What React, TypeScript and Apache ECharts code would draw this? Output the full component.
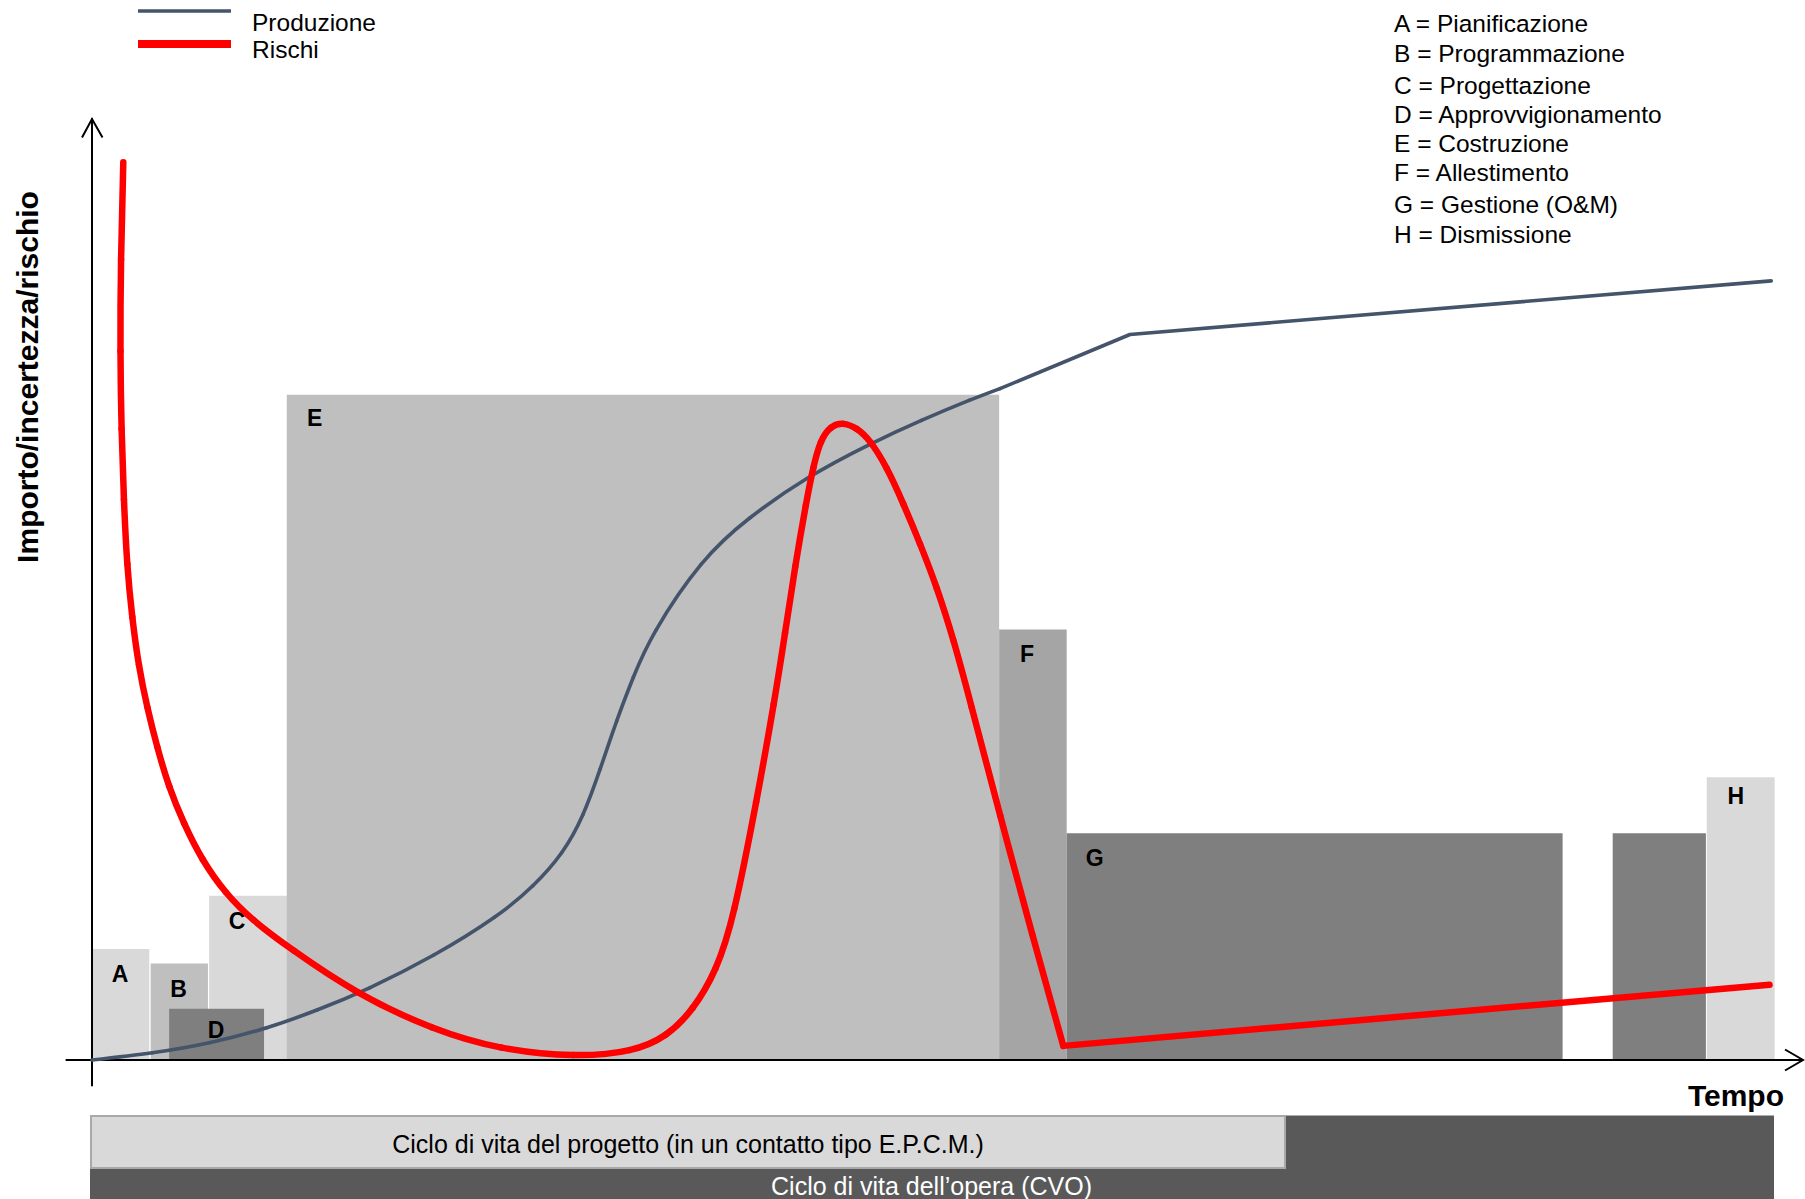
import React, { useEffect, useRef } from "react";
import * as echarts from "echarts";

// ---- data ----
const phaseLabels = ["A", "B", "C", "D", "E", "F", "G", "", "H"];
const phaseStart = [0, 3.43, 6.85, 4.51, 11.39, 53.05, 57.0, 88.93, 94.43];
const phaseEnd = [3.35, 6.78, 11.4, 10.06, 53.05, 57.0, 86.0, 94.38, 98.4];
const phaseHeight = [11.8, 10.25, 17.45, 5.45, 70.7, 45.75, 24.1, 24.1, 30.05];

const productionCurve: [number, number][] = [
  [0, 0], [3.57, 0.71], [6.93, 1.77], [10.29, 3.37], [13.2, 5.3], [16.06, 7.44],
  [19.96, 10.98], [23.86, 15.41], [25.81, 18.42], [27.56, 21.97], [28.73, 25.86], [29.71, 30.82],
  [30.68, 36.13], [31.66, 40.73], [32.63, 44.98], [35.68, 53.34], [38.37, 57.62], [41.74, 61.9],
  [45.5, 65.5], [48.5, 68.0], [51.54, 70.3], [53.1, 71.35],
];
const productionTail: [number, number][] = [[53.1, 71.35], [60.7, 77.1], [98.2, 82.8]];

const riskCurve: [number, number][] = [
  [1.83, 95.4], [1.68, 85], [1.65, 75], [1.72, 67], [1.86, 59.5], [2.05, 52.4],
  [2.34, 47.1], [2.73, 41.8], [3.22, 37.5], [3.8, 33.3], [4.48, 29.04], [5.36, 25.15],
  [6.43, 21.25], [7.8, 17.71], [9.36, 14.88], [11.5, 11.95], [15.48, 7.0], [19.96, 3.2],
  [23.86, 1.1], [28.34, 0.29], [31.66, 0.89], [33.61, 2.48], [35.16, 5.31], [36.53, 9.56],
  [37.5, 14.88], [38.9, 27.8], [39.94, 38.44], [40.53, 45.35], [41.11, 52.43], [41.79, 59.5],
  [42.18, 63.05], [42.6, 65.9], [43.2, 67.4], [43.94, 67.75], [44.7, 67.2], [45.5, 65.89],
  [46.47, 63.05], [47.44, 59.16], [48.42, 54.91], [49.4, 50.3], [50.4, 44.6], [51.3, 38.5],
  [53.1, 26.0], [55.0, 13.2], [56.8, 1.5],
];
const riskTail: [number, number][] = [[56.8, 1.5], [98.1, 8.0]];

const seriesNames = ["Produzione", "Rischi"];
const phaseLegend = [
  "A = Pianificazione",
  "B = Programmazione",
  "C = Progettazione",
  "D = Approvvigionamento",
  "E = Costruzione",
  "F = Allestimento",
  "G = Gestione (O&M)",
  "H = Dismissione",
];
const axisTitleY = "Importo/incertezza/rischio";
const axisTitleX = "Tempo";
const bandProject = "Ciclo di vita del progetto (in un contatto tipo E.P.C.M.)";
const bandWork = "Ciclo di vita dell\u2019opera (CVO)";

// ---- styles ----
const FONT = "'Liberation Sans', Arial, Helvetica, sans-serif";
const phaseColors = ["#d9d9d9", "#bfbfbf", "#d9d9d9", "#7f7f7f", "#bfbfbf", "#a5a5a5", "#7f7f7f", "#7f7f7f", "#d9d9d9"];
const labelOffsets: Record<string, [number, number]> = { D: [47, 21], H: [29, 19], E: [28, 23] };
const legendRowY = [23.7, 53.7, 85.3, 114.7, 143.7, 172, 204.7, 234];
const BLUE = "#44546A";
const RED = "#FF0000";

function txt(text: string, x: number, y: number, size: number, opts: any = {}) {
  return {
    type: "text",
    x,
    y,
    rotation: opts.rotation || 0,
    z: 20,
    silent: true,
    style: {
      text,
      fontSize: size,
      fontFamily: FONT,
      fontWeight: opts.bold ? "bold" : "normal",
      fill: opts.fill || "#000",
      align: opts.align || "left",
      textAlign: opts.align || "left",
      verticalAlign: "middle",
      textVerticalAlign: "middle",
    },
  };
}

// smooth curve: uniform cubic B-spline over the read points (end points reflected so
// the curve starts and ends exactly on the first and last point), one bezier per segment
function curveSeries(name: string, pts: [number, number][], color: string, width: number, z: number) {
  return {
    name,
    type: "custom",
    z,
    silent: true,
    data: pts,
    encode: { x: 0, y: 1 },
    renderItem: (params: any, api: any) => {
      const i = params.dataIndex;
      const n = pts.length;
      if (i >= n - 1) return null;
      const c = (k: number): number[] => {
        if (k < 0) {
          const a = api.coord(pts[0]), b = api.coord(pts[1]);
          return [2 * a[0] - b[0], 2 * a[1] - b[1]];
        }
        if (k > n - 1) {
          const a = api.coord(pts[n - 1]), b = api.coord(pts[n - 2]);
          return [2 * a[0] - b[0], 2 * a[1] - b[1]];
        }
        return api.coord(pts[k]);
      };
      const q0 = c(i - 1), q1 = c(i), q2 = c(i + 1), q3 = c(i + 2);
      const b0 = [0, 1].map((k) => (q0[k] + 4 * q1[k] + q2[k]) / 6);
      const b1 = [0, 1].map((k) => (2 * q1[k] + q2[k]) / 3);
      const b2 = [0, 1].map((k) => (q1[k] + 2 * q2[k]) / 3);
      const b3 = [0, 1].map((k) => (q1[k] + 4 * q2[k] + q3[k]) / 6);
      return {
        type: "bezierCurve",
        shape: { x1: b0[0], y1: b0[1], x2: b3[0], y2: b3[1], cpx1: b1[0], cpy1: b1[1], cpx2: b2[0], cpy2: b2[1] },
        style: { stroke: color, lineWidth: width, fill: null, lineCap: "round" },
      };
    },
  };
}

function straightSeries(name: string, pts: [number, number][], color: string, width: number, z: number) {
  return {
    name, type: "line", data: pts, smooth: false, symbol: "none",
    lineStyle: { color, width, cap: "round", join: "round" }, z, silent: true,
  };
}

export default function App() {
  const ref = useRef<HTMLDivElement>(null);
  useEffect(() => {
    const chart = echarts.init(ref.current!, null, { renderer: "svg" });
    const phaseData = phaseLabels.map((_, i) => [phaseStart[i], phaseEnd[i], phaseHeight[i], i]);
    chart.setOption({
      animation: false,
      grid: { left: 66.35, right: 3, top: 119, bottom: 113.6, containLabel: false },
      xAxis: {
        type: "value", min: -1.5, max: 100, z: 3,
        axisLine: { show: true, onZero: true, lineStyle: { color: "#000", width: 2 } },
        axisTick: { show: false }, axisLabel: { show: false }, splitLine: { show: false },
      },
      yAxis: {
        type: "value", min: -2.7, max: 100, z: 3,
        axisLine: { show: true, onZero: true, lineStyle: { color: "#000", width: 2 } },
        axisTick: { show: false }, axisLabel: { show: false }, splitLine: { show: false },
      },
      series: [
        {
          type: "custom",
          z: 1,
          silent: true,
          data: phaseData,
          renderItem: (params: any, api: any) => {
            const i = api.value(3);
            const p0 = api.coord([api.value(0), api.value(2)]);
            const p1 = api.coord([api.value(1), 0]);
            const lab = phaseLabels[i];
            const off = labelOffsets[lab] || [28, 25];
            const children: any[] = [
              {
                type: "rect",
                shape: { x: p0[0], y: p0[1], width: p1[0] - p0[0], height: p1[1] - p0[1] },
                style: { fill: phaseColors[i] },
              },
            ];
            if (lab) {
              children.push({
                type: "text",
                x: p0[0] + off[0],
                y: p0[1] + off[1],
                style: {
                  text: lab, fontSize: 23, fontWeight: "bold", fontFamily: FONT, fill: "#000",
                  align: "center", verticalAlign: "middle",
                },
              });
            }
            return { type: "group", children };
          },
        },
        curveSeries(seriesNames[0], productionCurve, BLUE, 3.6, 4),
        straightSeries(seriesNames[0], productionTail, BLUE, 3.6, 4),
        curveSeries(seriesNames[1], riskCurve, RED, 6.5, 5),
        straightSeries(seriesNames[1], riskTail, RED, 6.5, 5),
      ],
    });

    const top = chart.convertToPixel({ gridIndex: 0 }, [0, 100]) as number[];
    const right = chart.convertToPixel({ gridIndex: 0 }, [100, 0]) as number[];
    const graphics: any[] = [
      {
        type: "polyline", z: 20, silent: true,
        shape: { points: [[top[0] - 10, top[1] + 18.5], [top[0], top[1]], [top[0] + 10.5, top[1] + 18.5]] },
        style: { stroke: "#000", lineWidth: 2, fill: "none" },
      },
      {
        type: "polyline", z: 20, silent: true,
        shape: { points: [[right[0] - 17, right[1] - 10.5], [right[0] + 1, right[1]], [right[0] - 17, right[1] + 10.5]] },
        style: { stroke: "#000", lineWidth: 2, fill: "none" },
      },
      { type: "line", z: 20, silent: true, shape: { x1: 138, y1: 11, x2: 231, y2: 11 }, style: { stroke: BLUE, lineWidth: 3.3 } },
      { type: "line", z: 20, silent: true, shape: { x1: 138, y1: 44, x2: 231, y2: 44 }, style: { stroke: RED, lineWidth: 8 } },
      txt(seriesNames[0], 252, 22, 24.5),
      txt(seriesNames[1], 252, 49.5, 24.5),
      txt(axisTitleY, 27, 377, 30, { bold: true, rotation: Math.PI / 2, align: "center" }),
      txt(axisTitleX, 1784, 1095, 30, { bold: true, align: "right" }),
      { type: "rect", z: 10, silent: true, shape: { x: 90, y: 1115.5, width: 1684, height: 90 }, style: { fill: "#595959" } },
      {
        type: "rect", z: 11, silent: true, shape: { x: 91, y: 1116, width: 1194, height: 52 },
        style: { fill: "#d9d9d9", stroke: "#a9a9a9", lineWidth: 2 },
      },
      txt(bandProject, 688, 1143.5, 25, { align: "center" }),
      txt(bandWork, 931.5, 1186, 25, { align: "center", fill: "#ffffff" }),
    ];
    phaseLegend.forEach((t, i) => graphics.push(txt(t, 1394, legendRowY[i], 24.5)));
    chart.setOption({ graphic: graphics });

    return () => chart.dispose();
  }, []);
  return <div ref={ref} style={{ position: "absolute", left: 0, top: 0, width: 1805, height: 1199 }} />;
}
